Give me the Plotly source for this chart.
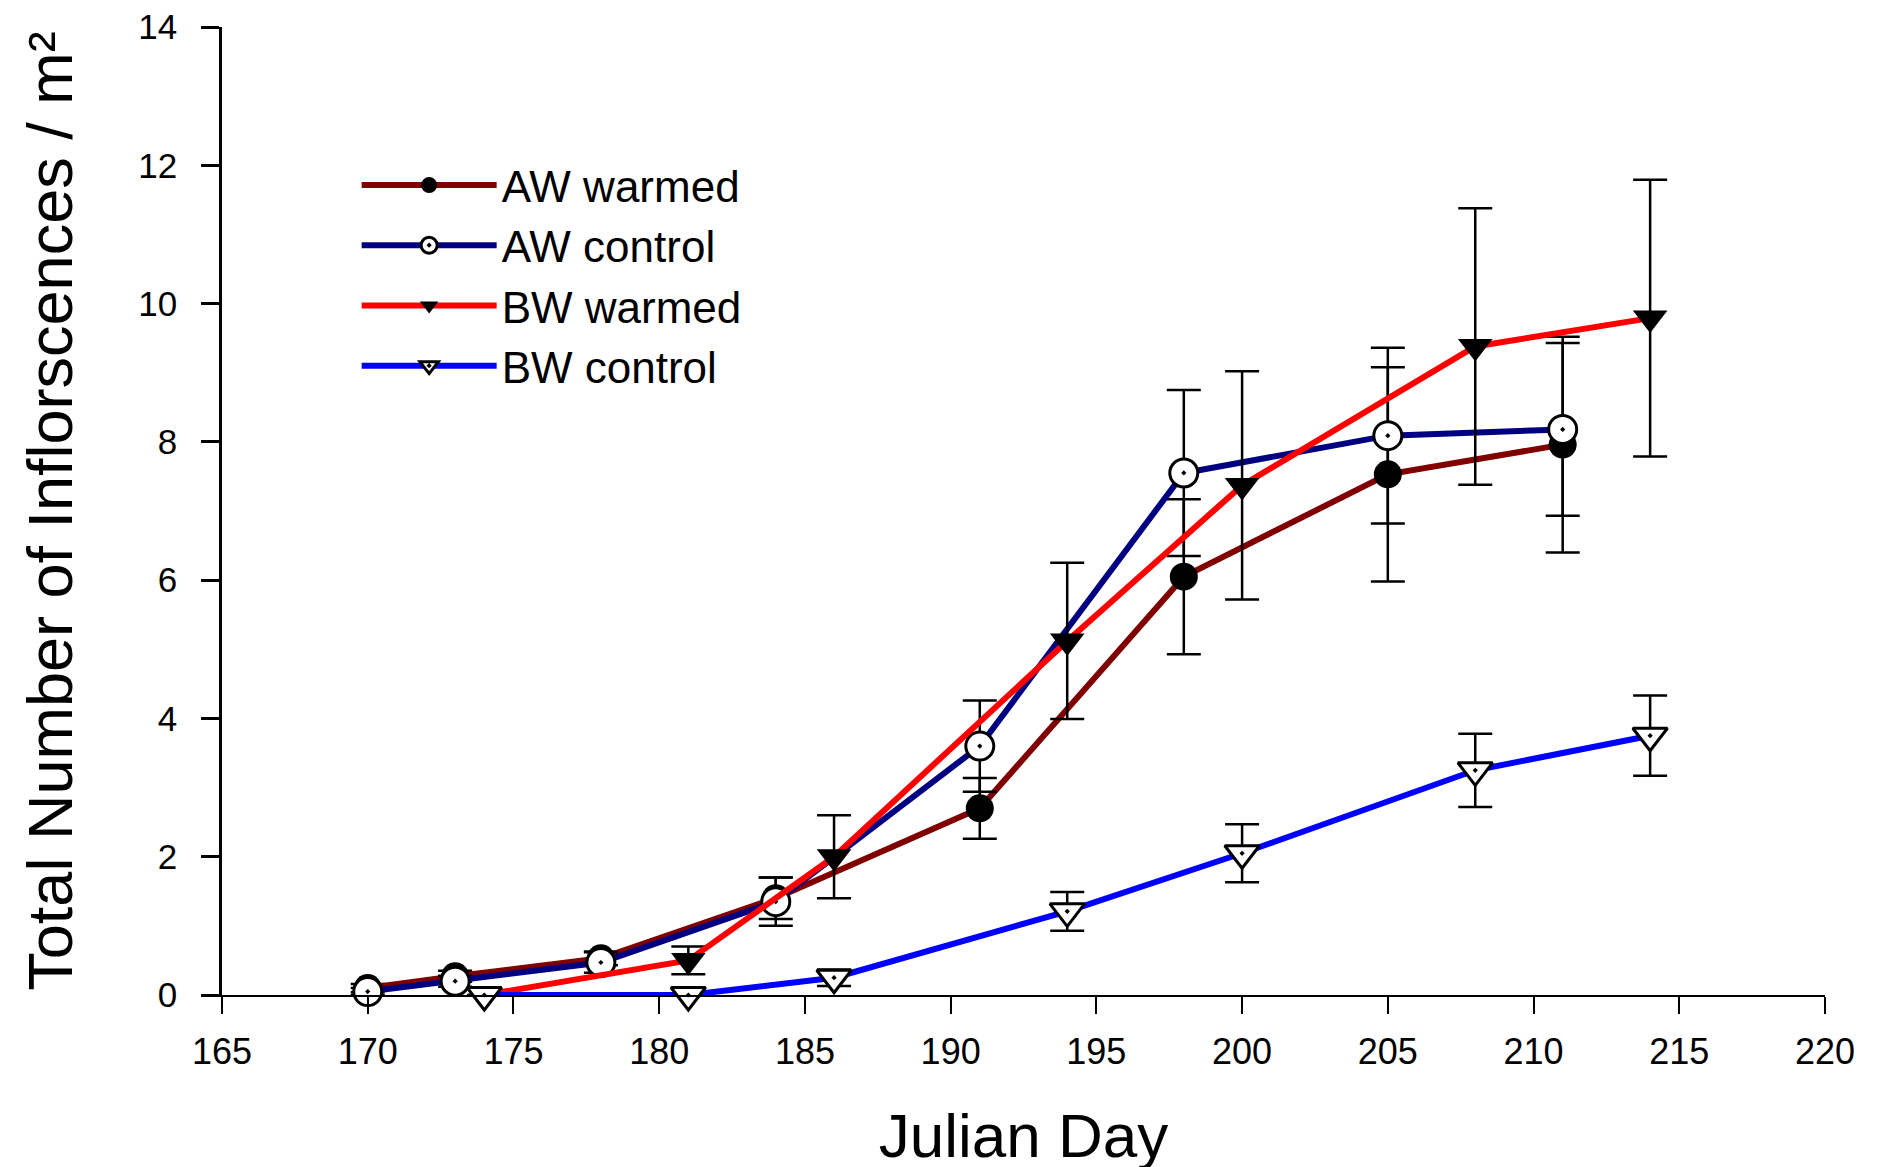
import plotly.graph_objects as go

# Julian days sampled
AW_DAYS = [170, 173, 178, 184, 191, 198, 205, 211]
BW_DAYS = [174, 181, 186, 194, 200, 208, 214]

# means and standard errors (inflorescences / m²)
AW_WARMED = [0.10, 0.27, 0.53, 1.40, 2.70, 6.05, 7.53, 7.96]
AW_WARMED_SE = [0.06, 0.08, 0.10, 0.30, 0.44, 1.12, 1.55, 1.56]
AW_CONTROL = [0.05, 0.20, 0.47, 1.35, 3.60, 7.55, 8.09, 8.18]
AW_CONTROL_SE = [0.05, 0.08, 0.15, 0.35, 0.66, 1.20, 1.27, 1.25]
BW_WARMED = [0.0, 0.50, 2.00, 5.12, 7.37, 9.38, 9.79]
BW_WARMED_SE = [None, 0.20, 0.60, 1.13, 1.65, 2.00, 2.00]
BW_CONTROL = [0.0, 0.0, 0.25, 1.21, 2.05, 3.25, 3.75]
BW_CONTROL_SE = [None, None, 0.12, 0.28, 0.42, 0.53, 0.58]

X_TICKS = list(range(165, 221, 5))
Y_TICKS = list(range(0, 15, 2))

FONT = "Liberation Sans, Arial, sans-serif"

SERIES = [
    ("AW warmed", AW_DAYS, AW_WARMED, AW_WARMED_SE, "#800000", "circle", "black"),
    ("AW control", AW_DAYS, AW_CONTROL, AW_CONTROL_SE, "#000080", "circle-dot", "white"),
    ("BW warmed", BW_DAYS, BW_WARMED, BW_WARMED_SE, "#ff0000", "triangle-down", "black"),
    ("BW control", BW_DAYS, BW_CONTROL, BW_CONTROL_SE, "#0000ff", "triangle-down-dot", "white"),
]

fig = go.Figure()

for name, x, y, se, color, symbol, fill in SERIES:
    is_triangle = symbol.startswith("triangle")
    fig.add_trace(go.Scatter(
        x=x, y=y, name=name,
        mode="lines+markers",
        line=dict(color=color, width=6),
        marker=dict(symbol=symbol, size=30 if is_triangle else 28, color=fill,
                    line=dict(color="black", width=3 if fill == "white" else 0)),
        error_y=dict(type="data", array=se, visible=True, color="black",
                     thickness=2.5, width=17),
        cliponaxis=False,
    ))

# page body has an 8px margin, so the plot margins are trimmed to compensate
fig.update_layout(
    width=1877, height=1167,
    margin=dict(l=214, r=60, t=19, b=180),
    plot_bgcolor="white", paper_bgcolor="white",
    font=dict(family=FONT, color="black"),
    showlegend=True,
    legend=dict(x=0.084, y=0.873, xanchor="left", yanchor="top",
                font=dict(size=44, family=FONT), bgcolor="rgba(0,0,0,0)",
                itemwidth=135, tracegroupgap=0),
    xaxis=dict(
        range=[165, 220], tickvals=X_TICKS, ticks="outside", ticklen=17,
        tickwidth=2, tickcolor="black", showline=True, linecolor="black",
        linewidth=2, showgrid=False, zeroline=False, automargin=False,
        tickfont=dict(size=36), ticklabelstandoff=7, ticklabeloverflow="allow",
        title=dict(text="Julian Day", font=dict(size=62), standoff=42),
    ),
    yaxis=dict(
        range=[0, 14], tickvals=Y_TICKS, ticks="outside", ticklen=18,
        tickwidth=2.5, tickcolor="black", showline=True, linecolor="black",
        linewidth=2.5, showgrid=False, zeroline=False, automargin=False,
        tickfont=dict(size=35), ticklabelstandoff=17, ticklabeloverflow="allow",
        title=dict(text="Total Number of Inflorscences / m²", font=dict(size=63),
                   standoff=46),
    ),
)

fig.write_html("out.html")
